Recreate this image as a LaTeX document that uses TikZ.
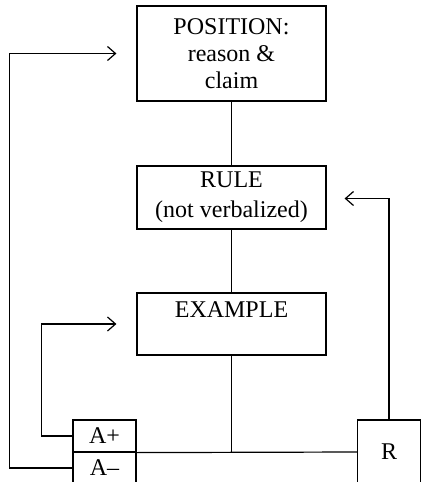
\documentclass[tikz,border=0pt]{standalone}
\usepackage{fontspec}
\setmainfont{Liberation Serif}
\usetikzlibrary{arrows.meta,calc}

\tikzset{
  stage/.style={draw,line width=0.6pt,minimum width=94.5pt,align=center,
    font=\fontsize{12}{13.5}\selectfont,inner sep=2pt},
  small/.style={draw,line width=0.6pt,minimum width=31.5pt,minimum height=16pt,
    font=\fontsize{12}{14}\selectfont,inner sep=1pt},
  link/.style={line width=0.6pt},
  back/.style={line width=0.6pt,-{Straight Barb[length=4pt,width=7pt]}}
}

\begin{document}
\begin{tikzpicture}[x=0.5pt,y=-0.5pt]
\clip (0,0) rectangle (424,482);

% Stages
\node[stage,minimum height=47.5pt] (position) at (231.5,53.5) {POSITION:\\reason \&\\claim};
\node[stage,minimum height=31.5pt,font=\fontsize{12}{15}\selectfont]
  (rule) at (231.5,197.5) {RULE\\(not verbalized)};
\node[stage,minimum height=31pt,inner ysep=3.3pt,text height=8.7pt,text depth=15.7pt]
  (example) at (231.5,324) {EXAMPLE};

% Answer and reply boxes
\node[small] (aplus) at (104.5,436) {A+};
\node[small] (aminus) at (104.5,468) {A--};
\node[small,minimum height=32pt] (reply) at (389,452) {R};

% Main line
\draw[link] (position.south) -- (rule.north);
\draw[link] (rule.south) -- (example.north);
\draw[link] (aplus.south east) -- (reply.west);
\draw[link] (example.south) -- (example.south |- reply.west);

% Feedback loops
\draw[back] (aminus.west) -- ++(-63,0) |- ([xshift=-10pt]position.west);
\draw[back] (aplus.west) -- ++(-31,0) |- ([xshift=-10pt]example.west);
\draw[back] (reply.north) |- ([xshift=9pt,yshift=-0.5pt]rule.east);
\end{tikzpicture}
\end{document}
